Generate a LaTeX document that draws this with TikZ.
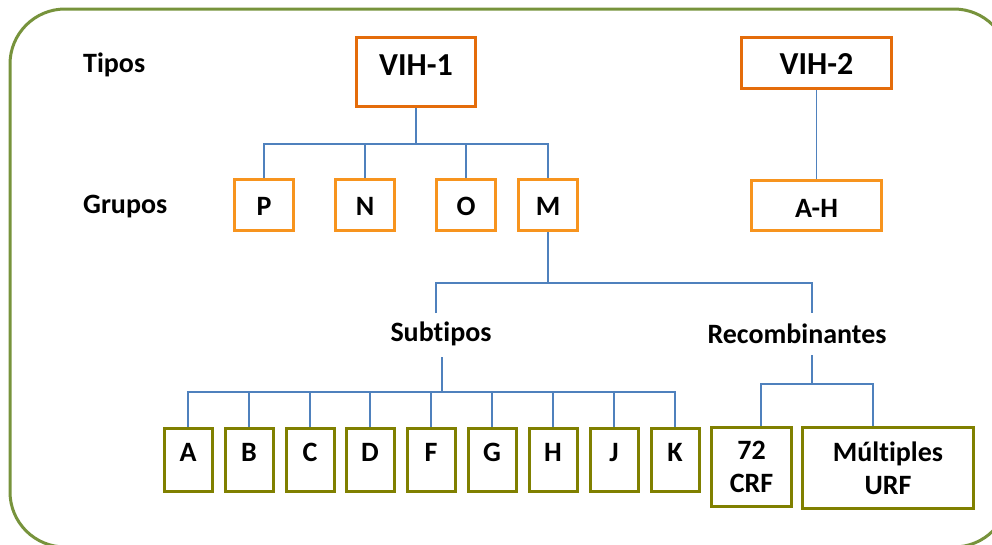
\documentclass[tikz,border=0pt]{standalone}
\usepackage{fontspec}
\setmainfont{Carlito}[RawFeature={-liga;-dlig;-clig}]
\definecolor{framegreen}{HTML}{77933C}
\definecolor{vihorange}{HTML}{E46C0A}
\definecolor{grporange}{HTML}{F7941E}
\definecolor{olivebox}{HTML}{808000}
\definecolor{connblue}{HTML}{4F81BD}
\tikzset{
  txt/.style={font=\fontsize{28}{33}\selectfont\bfseries, inner sep=0pt},
  boxbase/.style={draw, line width=3pt, inner xsep=0pt, inner ysep=0pt, fill=white},
  vihbox/.style={boxbase, draw=vihorange, font=\fontsize{32}{38}\selectfont\bfseries},
  grpbox/.style={boxbase, draw=grporange, font=\fontsize{28}{33}\selectfont\bfseries},
  subbox/.style={boxbase, draw=olivebox, font=\fontsize{28}{33}\selectfont\bfseries,
     minimum width=48pt, text height=32.5pt, text depth=30.5pt},
  recbox/.style={boxbase, draw=olivebox, font=\fontsize{28}{33}\selectfont\bfseries, align=center},
  conn/.style={draw=connblue, line width=1.5pt},
  connthick/.style={draw=connblue, line width=2.6pt},
  frame/.style={draw=framegreen, line width=3pt, rounded corners=55pt}
}
\begin{document}
\begin{tikzpicture}[x=1pt,y=-1pt]
\useasboundingbox (0,0) rectangle (992,544);
\clip (0,0) rectangle (992,544);
\draw[frame] (10,9) rectangle (1009,547);

% labels
\node[txt, anchor=west] (tipos) at (83,65) {Tipos};
\node[txt, anchor=west] (grupos) at (83,207) {Grupos};

% types
\node[vihbox, minimum width=119pt, text height=37.5pt, text depth=31.5pt] (vih1) at (416,72) {VIH-1};
\node[vihbox, minimum width=150pt, text height=36.5pt, text depth=14.5pt] (vih2) at (816.5,63) {VIH-2};

% groups
\node[grpbox, minimum width=59pt, text height=35.5pt, text depth=15.5pt] (P) at (264,205) {P};
\node[grpbox, minimum width=59pt, text height=35.5pt, text depth=15.5pt] (N) at (365,205) {N};
\node[grpbox, minimum width=59pt, text height=35.5pt, text depth=15.5pt] (O) at (466,205) {O};
\node[grpbox, minimum width=59pt, text height=35.5pt, text depth=15.5pt] (M) at (548,205) {M};
\node[grpbox, minimum width=130pt, text height=36.5pt, text depth=13.5pt] (AH) at (816.5,205.5) {A-H};

% middle labels
\node[txt] (subtipos) at (441,334) {Subtipos};
\node[txt] (recomb) at (797,334) {Recombinantes};

% subtypes
\node[subbox] (A) at (188,460) {A};
\node[subbox] (B) at (249,460) {B};
\node[subbox] (C) at (310,460) {C};
\node[subbox] (D) at (370,460) {D};
\node[subbox] (F) at (431,460) {F};
\node[subbox] (G) at (492,460) {G};
\node[subbox] (H) at (553,460) {H};
\node[subbox] (J) at (614,460) {J};
\node[subbox] (K) at (675,460) {K};

% recombinants
\node[recbox, minimum width=80pt, minimum height=79pt] (crf) at (751.5,467) {72\\CRF};
\node[recbox, minimum width=171pt, minimum height=81pt] (urf) at (888,468) {Múltiples\\URF};

% connectors VIH-1
\coordinate (j1) at (416,144);
\draw[conn] (vih1.south) -- (j1);
\foreach \g in {P,N,O,M} \draw[conn] (\g.north) |- (j1);
% VIH-2
\draw[conn] (vih2.south) -- (AH.north);

% M to subtipos / recombinantes
\coordinate (j2) at (548,283);
\coordinate (s1) at (436,313);
\coordinate (r1) at (812,313);
\draw[connthick] (M.south) -- (j2);
\draw[conn] (s1) |- (j2) -| (r1);

% subtipos to boxes
\coordinate (s2) at (442,357);
\coordinate (j3) at (442,392);
\draw[connthick] (s2) -- (j3);
\foreach \b in {A,B,C,D,F,G,H,J,K} \draw[conn] (\b.north) |- (j3);

% recombinantes to boxes
\coordinate (r2) at (812,355);
\coordinate (j4) at (812,384);
\draw[conn] (r2) -- (j4);
\draw[conn] ([xshift=9.5pt]crf.north) |- (j4);
\draw[conn] ([xshift=-15pt]urf.north) |- (j4);
\end{tikzpicture}
\end{document}
